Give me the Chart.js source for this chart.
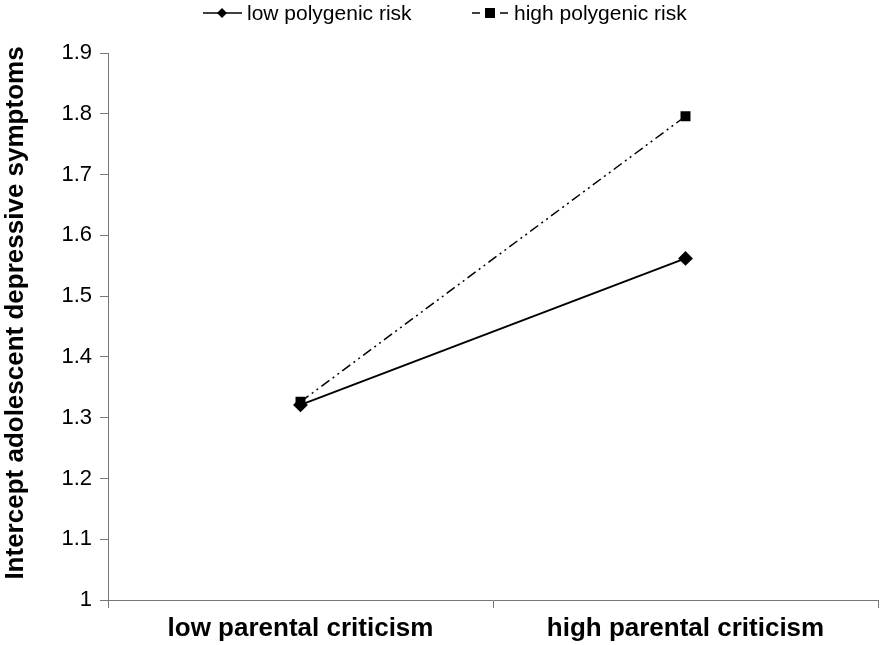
<!DOCTYPE html>
<html><head><meta charset="utf-8">
<script src="https://cdn.jsdelivr.net/npm/chart.js@4/dist/chart.umd.min.js"></script>
<style>html,body{margin:0;padding:0;background:#fff}#wrap{width:880px;height:645px;position:relative}</style>
</head><body><div id="wrap"><canvas id="c" width="880" height="645"></canvas></div>
<script>
const categories = ["low parental criticism", "high parental criticism"];
const lowRisk = [1.321, 1.562];
const highRisk = [1.326, 1.796];
const seriesNames = ["low polygenic risk", "high polygenic risk"];
const yTicks = [1, 1.1, 1.2, 1.3, 1.4, 1.5, 1.6, 1.7, 1.8, 1.9];
const yTitle = 'Intercept adolescent depressive symptoms';

const legendPlugin = {
  id: 'customLegend',
  afterDraw(chart) {
    const ctx = chart.ctx;
    const items = [
      {x1: 203, x2: 242, mx: 222, tx: 247},
      {x1: 472, x2: 508, mx: 490, tx: 514}
    ];
    const y = 13;
    chart.data.datasets.forEach((ds, i) => {
      const it = items[i];
      ctx.save();
      ctx.strokeStyle = '#000';
      ctx.lineWidth = 1.5;
      ctx.beginPath();
      if (i === 0) { ctx.moveTo(it.x1, y); ctx.lineTo(it.x2, y); }
      else { ctx.moveTo(it.x1, y); ctx.lineTo(it.x1 + 8, y); ctx.moveTo(it.x2 - 8, y); ctx.lineTo(it.x2, y); }
      ctx.stroke();
      ctx.fillStyle = '#000';
      ctx.beginPath();
      if (ds.pointStyle === 'rectRot') {
        const r = 5;
        ctx.moveTo(it.mx, y - r); ctx.lineTo(it.mx + r, y); ctx.lineTo(it.mx, y + r); ctx.lineTo(it.mx - r, y); ctx.closePath();
      } else {
        ctx.rect(it.mx - 5, y - 5, 10, 10);
      }
      ctx.fill();
      ctx.font = '21px "Liberation Sans", Arial, sans-serif';
      ctx.textBaseline = 'middle';
      ctx.fillText(ds.label, it.tx, y + 1);
      ctx.restore();
    });
    // y-axis title
    ctx.save();
    ctx.translate(16, 313);
    ctx.rotate(-Math.PI / 2);
    ctx.fillStyle = '#000';
    ctx.font = 'bold 26px "Liberation Sans", Arial, sans-serif';
    ctx.textAlign = 'center';
    ctx.textBaseline = 'middle';
    ctx.fillText(yTitle, 0, 0);
    ctx.restore();
  }
};

new Chart(document.getElementById('c'), {
  type: 'line',
  data: {
    labels: categories,
    datasets: [
      {label: seriesNames[0], data: lowRisk, borderColor: '#000', backgroundColor: '#000', borderWidth: 2,
       pointStyle: 'rectRot', pointRadius: 6, pointHoverRadius: 6, tension: 0},
      {label: seriesNames[1], data: highRisk, borderColor: '#000', backgroundColor: '#000', borderWidth: 1.5,
       borderDash: [10, 4, 2, 4, 2, 4], pointStyle: 'rect', pointRadius: 6, pointHoverRadius: 6, tension: 0}
    ]
  },
  options: {
    responsive: false,
    animation: false,
    events: [],
    layout: {autoPadding: false, padding: {top: 53, right: 2, left: 0, bottom: 0}},
    plugins: {legend: {display: false}, tooltip: {enabled: false}},
    scales: {
      x: {
        offset: true,
        grid: {offset: true, drawOnChartArea: false, color: '#777', tickLength: 8, lineWidth: 1},
        border: {color: '#777', width: 1},
        ticks: {color: '#000', font: {family: '"Liberation Sans", Arial, sans-serif', size: 26, weight: 'bold'}, padding: 5},
        afterFit(s) { s.height = 45; }
      },
      y: {
        min: 1, max: 1.9,
        afterBuildTicks(s) { s.ticks = yTicks.map(v => ({value: v})); },
        grid: {drawOnChartArea: false, color: '#777', tickLength: 8},
        border: {color: '#777', width: 1},
        ticks: {color: '#000', font: {family: '"Liberation Sans", Arial, sans-serif', size: 22}, padding: 8,
                callback: v => String(Math.round(v * 10) / 10)},
        title: {display: false},
        afterFit(s) { s.width = 108; }
      }
    }
  },
  plugins: [legendPlugin]
});
</script></body></html>
